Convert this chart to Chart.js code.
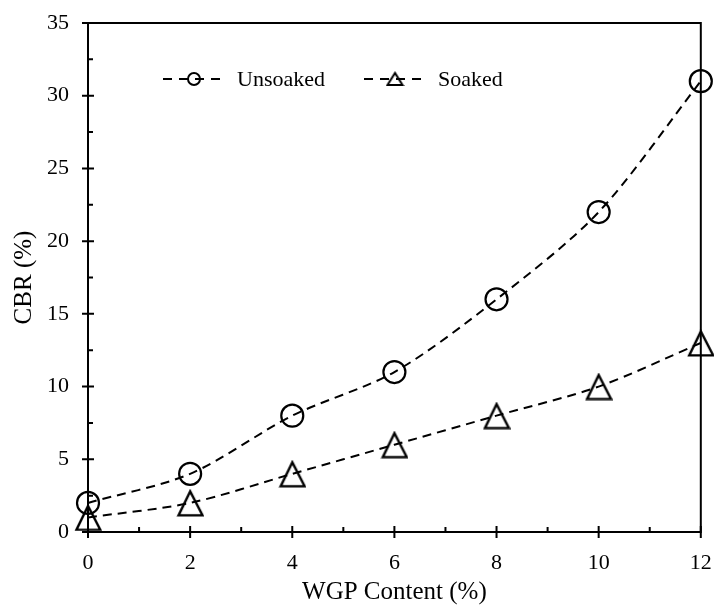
<!DOCTYPE html>
<html>
<head>
<meta charset="utf-8">
<script src="https://cdn.jsdelivr.net/npm/chart.js@4"></script>
<style>
    html, body { margin: 0; padding: 0; background: #fff; }
    #wrap { width: 714px; height: 608px; }
</style>
</head>
<body>
<div id="wrap"><canvas id="cbr-chart"></canvas></div>
<script>
const wgpContent = [0, 2, 4, 6, 8, 10, 12]
const unsoaked = [2, 4, 8, 11, 16, 22, 31]
const soaked = [1, 2, 4, 6, 8, 10, 13]
const xTicks = [0, 2, 4, 6, 8, 10, 12]
const yTicks = [0, 5, 10, 15, 20, 25, 30, 35]

const FONT = '"Liberation Serif", "Times New Roman", serif'

// open triangle marker, centred on its bounding box (like the spreadsheet one)
const makeTriangle = (w, h, lw) => {
    const c = document.createElement('canvas')
    c.width = w + lw * 2
    c.height = h + lw * 2
    const g = c.getContext('2d')
    g.strokeStyle = '#000'
    g.lineWidth = lw
    g.lineJoin = 'miter'
    g.beginPath()
    g.moveTo(c.width / 2, lw)
    g.lineTo(lw, lw + h)
    g.lineTo(lw + w, lw + h)
    g.closePath()
    g.stroke()
    return c
}
const bigTriangle = makeTriangle(24, 24, 2.4)
const smallTriangle = makeTriangle(15, 12, 2)

// frame, crossing major ticks, inner minor ticks
const axesBox = {
    id: 'axesBox',
    afterDatasetsDraw(chart) {
        const { ctx, chartArea: a, scales: { x, y } } = chart
        ctx.save()
        ctx.strokeStyle = '#000'
        ctx.lineWidth = 2
        ctx.setLineDash([])
        ctx.strokeRect(a.left, a.top, a.right - a.left, a.bottom - a.top)
        ctx.beginPath()
        xTicks.forEach(v => {
            const px = x.getPixelForValue(v)
            ctx.moveTo(px, a.bottom - 6)
            ctx.lineTo(px, a.bottom + 6)
        })
        for (let v = 1; v < 12; v += 2) {
            const px = x.getPixelForValue(v)
            ctx.moveTo(px, a.bottom - 5)
            ctx.lineTo(px, a.bottom)
        }
        yTicks.forEach(v => {
            const py = y.getPixelForValue(v)
            ctx.moveTo(a.left - 6, py)
            ctx.lineTo(a.left + 6, py)
        })
        for (let v = 2.5; v < 35; v += 5) {
            const py = y.getPixelForValue(v)
            ctx.moveTo(a.left, py)
            ctx.lineTo(a.left + 5, py)
        }
        ctx.stroke()
        ctx.restore()
    },
}

// legend inside the plot: dashed line, marker, label
const insideLegend = {
    id: 'insideLegend',
    afterDraw(chart) {
        const { ctx, chartArea: a } = chart
        const cy = a.top + 56
        const entries = [
            { x0: a.left + 75, style: 'circle' },
            { x0: a.left + 276, style: 'triangle' },
        ]
        ctx.save()
        entries.forEach((e, i) => {
            const ds = chart.data.datasets[i]
            ctx.strokeStyle = '#000'
            ctx.lineWidth = 2
            ctx.setLineDash([9, 7])
            ctx.beginPath()
            ctx.moveTo(e.x0, cy)
            ctx.lineTo(e.x0 + 60, cy)
            ctx.stroke()
            ctx.setLineDash([])
            const mx = e.x0 + 31
            if (e.style === 'circle') {
                ctx.beginPath()
                ctx.arc(mx, cy, 6, 0, Math.PI * 2)
                ctx.stroke()
            } else {
                ctx.drawImage(smallTriangle, mx - smallTriangle.width / 2, cy - smallTriangle.height / 2)
            }
            ctx.fillStyle = '#000'
            ctx.font = '22px ' + FONT
            ctx.textBaseline = 'middle'
            ctx.textAlign = 'left'
            ctx.fillText(ds.label, e.x0 + 74, cy + 1)
        })
        ctx.restore()
    },
}

new Chart(document.getElementById('cbr-chart'), {
    type: 'line',
    data: {
        datasets: [{
            label: 'Unsoaked',
            data: wgpContent.map((v, i) => ({ x: v, y: unsoaked[i] })),
            borderColor: '#000',
            borderWidth: 2,
            borderDash: [9, 6],
            pointStyle: 'circle',
            pointRadius: 11,
            pointBorderWidth: 2.2,
            pointBackgroundColor: 'rgba(0,0,0,0)',
            pointBorderColor: '#000',
            tension: 0.3,
            clip: false,
        }, {
            label: 'Soaked',
            data: wgpContent.map((v, i) => ({ x: v, y: soaked[i] })),
            borderColor: '#000',
            borderWidth: 2,
            borderDash: [9, 6],
            pointStyle: bigTriangle,
            tension: 0.3,
            clip: false,
        }],
    },
    options: {
        responsive: true,
        maintainAspectRatio: false,
        animation: false,
        layout: { padding: { top: 23, right: 13, left: 0, bottom: 0 } },
        plugins: {
            legend: { display: false },
            tooltip: { enabled: false },
        },
        scales: {
            x: {
                type: 'linear',
                min: 0,
                max: 12,
                grid: { display: false },
                border: { display: false },
                ticks: {
                    stepSize: 2,
                    padding: 10,
                    color: '#000',
                    font: { family: FONT, size: 22 },
                    maxRotation: 0,
                },
                title: {
                    display: true,
                    text: 'WGP Content (%)',
                    color: '#000',
                    font: { family: FONT, size: 25 },
                    padding: { top: 0, bottom: 1 },
                },
                afterFit: s => {
                    s.height = 76
                    s.paddingLeft = 0
                    s.paddingRight = 0
                },
            },
            y: {
                min: 0,
                max: 35,
                grid: { display: false },
                border: { display: false },
                ticks: {
                    stepSize: 5,
                    padding: 11,
                    color: '#000',
                    font: { family: FONT, size: 22 },
                },
                title: {
                    display: true,
                    text: 'CBR (%)',
                    color: '#000',
                    font: { family: FONT, size: 25 },
                    padding: { top: 9, bottom: 0 },
                },
                afterFit: s => {
                    s.width = 88
                    s.paddingTop = 0
                    s.paddingBottom = 0
                },
            },
        },
    },
    plugins: [axesBox, insideLegend],
})
</script>
</body>
</html>
